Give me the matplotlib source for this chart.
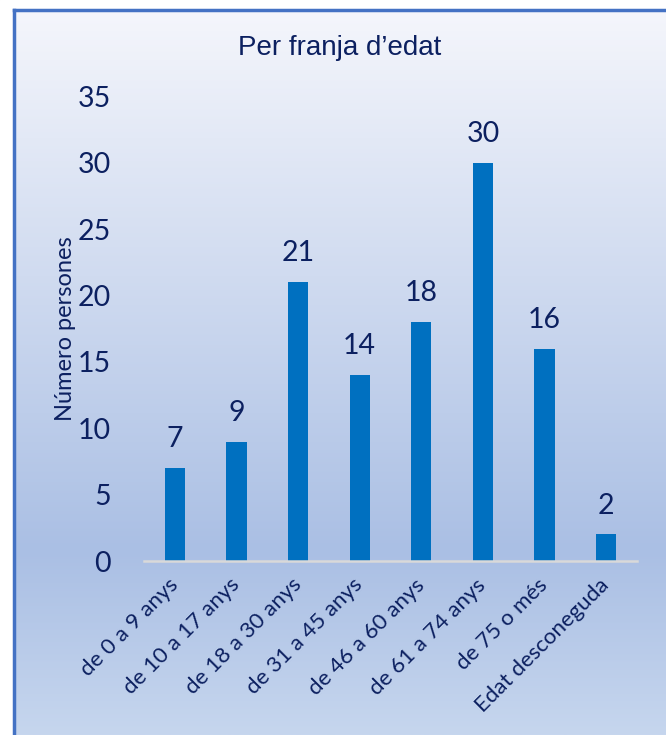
import numpy as np
import matplotlib
matplotlib.use("Agg")
import matplotlib.pyplot as plt
from matplotlib.colors import LinearSegmentedColormap
from matplotlib.patches import Rectangle

# dades
categories = ["de 0 a 9 anys", "de 10 a 17 anys", "de 18 a 30 anys", "de 31 a 45 anys",
              "de 46 a 60 anys", "de 61 a 74 anys", "de 75 o més", "Edat desconeguda"]
persones = [7, 9, 21, 14, 18, 30, 16, 2]
yticks = [0, 5, 10, 15, 20, 25, 30, 35]

text_color = "#0c2060"
bar_color = "#0070c0"

fig = plt.figure(figsize=(6.66, 7.35), dpi=100)

# fons amb degradat
bg = fig.add_axes([0, 0, 1, 1], zorder=0)
bg.set_axis_off()
cmap = LinearSegmentedColormap.from_list(
    "fons", [(0.0, "#f6f7fc"), (0.75, "#aabfe4"), (1.0, "#c6d6ee")])
grad = np.linspace(0, 1, 256).reshape(-1, 1)
bg.imshow(grad, cmap=cmap, aspect="auto", extent=[0, 1, 0, 1], origin="upper")
bg.set_xlim(0, 1)
bg.set_ylim(0, 1)
# marc: blanc a fora, línia blava a dalt i a l'esquerra
bg.add_patch(Rectangle((0, 0), 13.5 / 666, 1, color="white", zorder=2))
bg.add_patch(Rectangle((0, 1 - 9 / 735), 1, 9 / 735, color="white", zorder=2))
bg.plot([13.5 / 666, 13.5 / 666], [0, 1 - 9.5 / 735], color="#4472c4", lw=2.5, zorder=3)
bg.plot([13.5 / 666, 1], [1 - 9.5 / 735, 1 - 9.5 / 735], color="#4472c4", lw=2.5, zorder=3)

ax = fig.add_axes([144 / 666, 1 - 561 / 735, 493 / 666, (561 - 96.5) / 735], zorder=1)
ax.patch.set_alpha(0)

x = np.arange(len(categories))
bars = ax.bar(x, persones, width=0.33, color=bar_color, zorder=2)
for b, v in zip(bars, persones):
    ax.text(b.get_x() + b.get_width() / 2, v + 1.2, str(v), ha="center", va="bottom",
            fontsize=20.5, color=text_color, family="Lato")

ax.set_xlim(-0.5, len(categories) - 0.5)
ax.set_ylim(0, 35)
ax.set_yticks(yticks)
ax.set_yticklabels([str(t) for t in yticks], fontsize=20.5, color=text_color, family="Lato")
ax.set_xticks(x)
ax.set_xticklabels(categories, rotation=45, ha="right", va="center", rotation_mode="anchor",
                   fontsize=16, color=text_color, family="Lato")
ax.tick_params(axis="x", length=0, pad=15)
ax.tick_params(axis="y", length=0, pad=24)

for s in ["top", "right", "left"]:
    ax.spines[s].set_visible(False)
ax.spines["bottom"].set_color("#d9d9d9")
ax.spines["bottom"].set_linewidth(1.8)

ax.set_ylabel("Número persones", fontsize=17, color=text_color, family="Lato")
ax.yaxis.set_label_coords(-0.138, 0.50)

fig.text(340 / 666, 1 - 48 / 735, "Per franja d\u2019edat", ha="center", va="center",
         fontsize=20, color=text_color, family="Liberation Sans")

fig.savefig("out.png", dpi=100)
